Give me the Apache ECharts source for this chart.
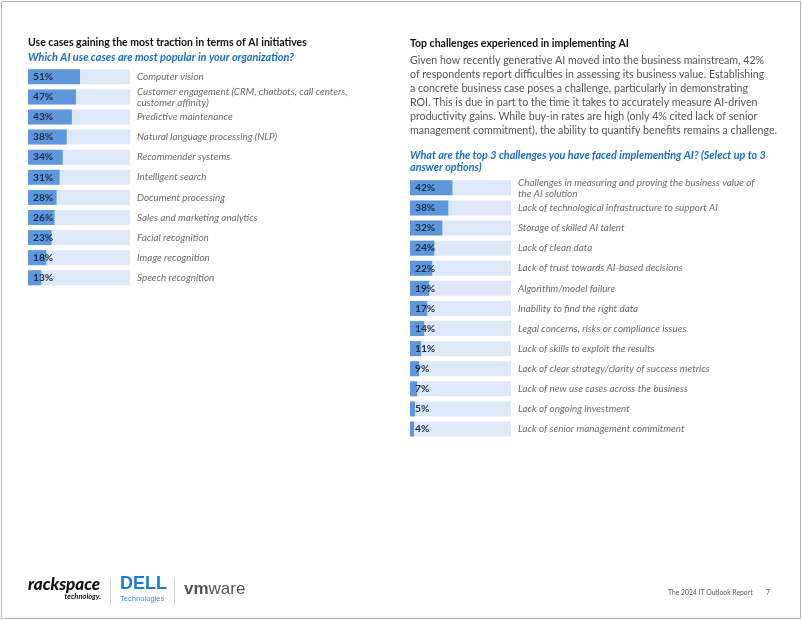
<!DOCTYPE html>
<html><head><meta charset="utf-8">
<script src="https://cdn.jsdelivr.net/npm/echarts@6/dist/echarts.min.js"></script>
<style>html,body{margin:0;padding:0;background:#fff}#c{width:802px;height:620px}</style>
</head><body><div id="c"></div>
<script>
const useCases = ["Computer vision","Customer engagement (CRM, chatbots, call centers,\ncustomer affinity)","Predictive maintenance","Natural language processing (NLP)","Recommender systems","Intelligent search","Document processing","Sales and marketing analytics","Facial recognition","Image recognition","Speech recognition"];
const useCaseValues = [51,47,43,38,34,31,28,26,23,18,13];
const challenges = ["Challenges in measuring and proving the business value of\nthe AI solution","Lack of technological infrastructure to support AI","Storage of skilled AI talent","Lack of clean data","Lack of trust towards AI-based decisions","Algorithm/model failure","Inability to find the right data","Legal concerns, risks or compliance issues","Lack of skills to exploit the results","Lack of clear strategy/clarity of success metrics","Lack of new use cases across the business","Lack of ongoing investment","Lack of senior management commitment"];
const challengeValues = [42,38,32,24,22,19,17,14,11,9,7,5,4];

const FONT = "Lato";
const chart = echarts.init(document.getElementById('c'), null, {renderer:'canvas'});
function yAx(gi, data){
  return {type:'category', gridIndex:gi, data:data, inverse:true, position:'right',
    axisLine:{show:false}, axisTick:{show:false}, splitLine:{show:false},
    axisLabel:{align:'left', margin:7, color:'#6a6a6a', fontStyle:'italic', fontFamily:FONT, fontSize:9.9, lineHeight:11}};
}
function xAx(gi){ return {type:'value', gridIndex:gi, min:0, max:100, show:false}; }
function ser(i, vals){
  return {type:'bar', xAxisIndex:i, yAxisIndex:i, data:vals, barWidth:15,
    showBackground:true, backgroundStyle:{color:'#dde9f8'},
    itemStyle:{color:'#5e97dc'},
    label:{show:true, position:'insideLeft', distance:5, formatter:'{c}%', color:'#1b2b4b', fontWeight:'bold', fontFamily:FONT, fontSize:10.2},
    silent:true, animation:false};
}
chart.setOption({
  animation:false,
  grid:[{left:28, top:66.8, width:102, height:221},{left:410, top:177.8, width:101, height:261.3}],
  xAxis:[xAx(0), xAx(1)],
  yAxis:[yAx(0,useCases), yAx(1,challenges)],
  series:[ser(0,useCaseValues), ser(1,challengeValues)],
  graphic:[
    {type:'rect', shape:{x:1.5,y:1.5,width:799,height:617}, style:{fill:'none', stroke:'#b5b5b5', lineWidth:1}},
    {type:'text', left:28, top:37, style:{text:'Use cases gaining the most traction in terms of AI initiatives', fontFamily:FONT, fontWeight:'bold', fontSize:10.5, fill:'#111'}},
    {type:'text', left:28, top:52, style:{text:'Which AI use cases are most popular in your organization?', fontFamily:FONT, fontWeight:'bold', fontStyle:'italic', fontSize:10.9, fill:'#1b6cc4'}},
    {type:'text', left:410, top:38, style:{text:'Top challenges experienced in implementing AI', fontFamily:FONT, fontWeight:'bold', fontSize:10.5, fill:'#111'}},
    {type:'text', left:410, top:54, style:{text:'Given how recently generative AI moved into the business mainstream, 42%\nof respondents report difficulties in assessing its business value. Establishing\na concrete business case poses a challenge, particularly in demonstrating\nROI. This is due in part to the time it takes to accurately measure AI-driven\nproductivity gains. While buy-in rates are high (only 4% cited lack of senior\nmanagement commitment), the ability to quantify benefits remains a challenge.', fontFamily:FONT, fontSize:10.65, lineHeight:13.9, fill:'#555'}},
    {type:'text', left:410, top:149, style:{text:'What are the top 3 challenges you have faced implementing AI? (Select up to 3\nanswer options)', fontFamily:FONT, fontWeight:'bold', fontStyle:'italic', fontSize:10.8, lineHeight:12.5, fill:'#1b6cc4'}},
    {type:'text', left:28, top:576, style:{text:'rackspace', fontFamily:FONT, fontWeight:'900', fontStyle:'italic', fontSize:17, fill:'#111'}},
    {type:'text', right:701, top:593, style:{text:'technology.', fontFamily:FONT, fontWeight:'bold', fontStyle:'italic', fontSize:7.5, fill:'#111'}},
    {type:'line', shape:{x1:110.5,y1:578,x2:110.5,y2:605}, style:{stroke:'#cfcfcf', lineWidth:1}},
    {type:'text', left:120, top:575, style:{text:'DELL', fontFamily:'Liberation Sans', fontWeight:'bold', fontSize:18, fill:'#1f7bd0'}},
    {type:'text', left:120, top:595, style:{text:'Technologies', fontFamily:'Liberation Sans', fontSize:7.6, fill:'#3b8ad6'}},
    {type:'line', shape:{x1:174.5,y1:578,x2:174.5,y2:605}, style:{stroke:'#cfcfcf', lineWidth:1}},
    {type:'text', left:184, top:581, style:{text:'{b|vm}{n|ware}', rich:{b:{fontFamily:'Liberation Sans', fontWeight:'bold', fontSize:17, fill:'#555'}, n:{fontFamily:'Liberation Sans', fontSize:17, fill:'#555'}}}},
    {type:'text', left:668, top:589.5, style:{text:'The 2024 IT Outlook Report', fontFamily:FONT, fontSize:6.8, fill:'#555'}},
    {type:'text', left:766, top:589.5, style:{text:'7', fontFamily:FONT, fontSize:6.8, fill:'#555'}}
  ]
});
</script></body></html>
